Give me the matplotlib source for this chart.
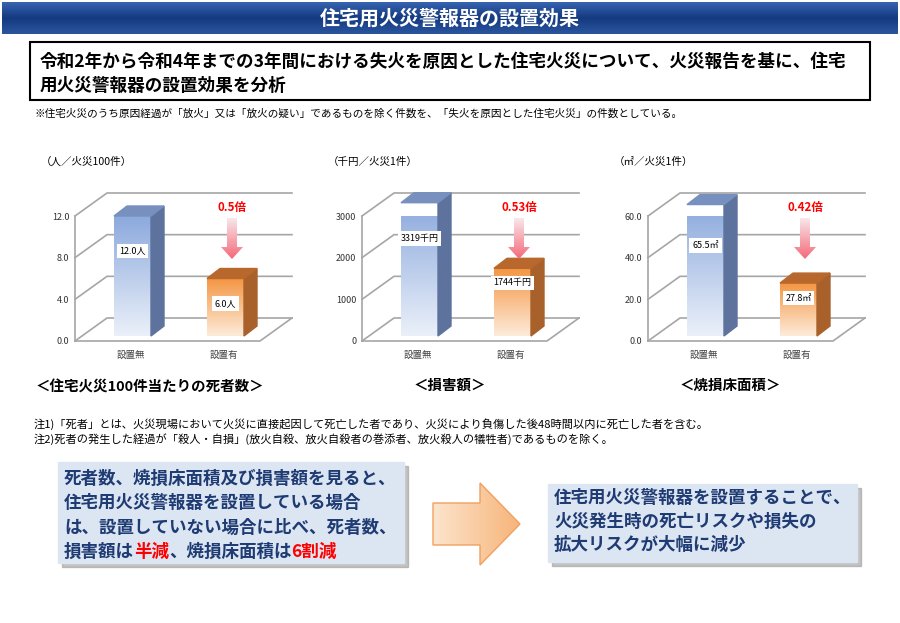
import matplotlib
matplotlib.use("Agg")
import matplotlib.pyplot as plt
import numpy as np
from matplotlib.patches import Polygon, Rectangle
from matplotlib.colors import LinearSegmentedColormap

plt.rcParams["font.family"] = "Noto Sans CJK JP"

categories = ["設置無", "設置有"]
deaths = [12.0, 6.0]
damage = [3319, 1744]
area = [65.5, 27.8]
value_labels = [["12.0人", "6.0人"], ["3319千円", "1744千円"], ["65.5㎡", "27.8㎡"]]
ratios = ["0.5倍", "0.53倍", "0.42倍"]
units = ["（人／火災100件）", "（千円／火災1件）", "（㎡／火災1件）"]
titles = ["＜住宅火災100件当たりの死者数＞", "＜損害額＞", "＜焼損床面積＞"]
yticks = [[0, 4, 8, 12], [0, 1000, 2000, 3000], [0, 20, 40, 60]]
yfmt = ["{:.1f}", "{:d}", "{:.1f}"]
series = [deaths, damage, area]

W, H = 900, 623
fig = plt.figure(figsize=(9, 6.23), dpi=100)
bg = fig.add_axes([0, 0, 1, 1], zorder=0)
bg.set_xlim(0, W); bg.set_ylim(H, 0); bg.axis("off")

def pt(px):
    return px * 0.72

# header band
grad = np.linspace(0, 1, 50).reshape(-1, 1)
hcm = LinearSegmentedColormap.from_list("h", ["#3763B0", "#143A80", "#2A559E"])
bg.imshow(grad, extent=[2, 898, 34, 2], cmap=hcm, aspect="auto", zorder=1)
bg.text(450, 18, "住宅用火災警報器の設置効果", color="white", fontsize=pt(20), fontweight="bold",
        ha="center", va="center", zorder=2)
bg.add_patch(Rectangle((30, 42), 840, 58, fill=False, ec="black", lw=1.5, zorder=2))
bg.text(40, 62, "令和2年から令和4年までの3年間における失火を原因とした住宅火災について、火災報告を基に、住宅",
        fontsize=pt(17.6), fontweight="bold", va="center")
bg.text(40, 86, "用火災警報器の設置効果を分析", fontsize=pt(17.6), fontweight="bold", va="center")
bg.text(34, 114, "※住宅火災のうち原因経過が「放火」又は「放火の疑い」であるものを除く件数を、「失火を原因とした住宅火災」の件数としている。",
        fontsize=pt(10.6), va="center")

# notes
bg.text(34, 424, "注1)「死者」とは、火災現場において火災に直接起因して死亡した者であり、火災により負傷した後48時間以内に死亡した者を含む。",
        fontsize=pt(11.2), va="center")
bg.text(34, 439, "注2)死者の発生した経過が「殺人・自損」(放火自殺、放火自殺者の巻添者、放火殺人の犠牲者)であるものを除く。",
        fontsize=pt(11.2), va="center")

# bottom boxes
for (x0, y0, x1, y1) in [(58, 462, 404, 563), (548, 484, 857, 562)]:
    bg.add_patch(Rectangle((x0 + 4, y0 + 4), x1 - x0, y1 - y0, color="#9A9A9A", alpha=0.6, zorder=1))
    bg.add_patch(Rectangle((x0, y0), x1 - x0, y1 - y0, color="#DCE6F2", zorder=2))
navy = "#1F3B73"
fsz = pt(17.5)
lx = 64
left_lines = ["死者数、焼損床面積及び損害額を見ると、", "住宅用火災警報器を設置している場合",
              "は、設置していない場合に比べ、死者数、"]
for i, s in enumerate(left_lines):
    bg.text(lx, 479 + i * 24.3, s, fontsize=fsz, fontweight="bold", color=navy, va="center", zorder=3)
parts = [("損害額は", navy), ("半減", "red"), ("、焼損床面積は", navy), ("6割減", "red")]
xcur = lx
fig.canvas.draw()
r = fig.canvas.get_renderer()
for s, c in parts:
    tt = bg.text(xcur, 552, s, fontsize=fsz, fontweight="bold", color=c, va="center", zorder=3)
    bb = tt.get_window_extent(renderer=r)
    xcur += bb.width
right_lines = ["住宅用火災警報器を設置することで、", "火災発生時の死亡リスクや損失の", "拡大リスクが大幅に減少"]
for i, s in enumerate(right_lines):
    bg.text(554, 498 + i * 23.5, s, fontsize=fsz, fontweight="bold", color=navy, va="center", zorder=3)

# big arrow
arrow = Polygon([[433, 503], [480, 503], [480, 483], [520, 524], [480, 565], [480, 545], [433, 545]],
                closed=True, zorder=2)
acm = LinearSegmentedColormap.from_list("a", ["#FCE4CC", "#F7B57A"])
im = bg.imshow(np.linspace(0, 1, 50).reshape(1, -1), extent=[433, 520, 565, 483], cmap=acm,
               aspect="auto", zorder=2)
arrow.set_facecolor("none"); arrow.set_edgecolor("#F0A060"); arrow.set_lw(1)
bg.add_patch(arrow)
im.set_clip_path(arrow)

blue_front = LinearSegmentedColormap.from_list("bf", ["#EAF0F9", "#8DAADD"])
orange_front = LinearSegmentedColormap.from_list("of", ["#FDEBD9", "#F49644"])
styles = [(blue_front, "#5D739E", "#7890BE"), (orange_front, "#A9612B", "#B8682C")]
pink = LinearSegmentedColormap.from_list("pk", ["#F46A7A", "#F8E6EA"])
label_pos = [[0.72, 0.6], [0.74, 0.8], [0.7, 0.74]]

axis_x = [75, 362, 648]
for k in range(3):
    vals = series[k]
    ymax = yticks[k][-1]
    ax = fig.add_axes([axis_x[k] / W, (H - 341) / H, 185 / W, 125 / H], zorder=2)
    ax.patch.set_alpha(0)
    pxx = 93.0
    xl, xr = -55.5 / pxx, -55.5 / pxx + 185 / pxx
    ax.set_xlim(xl, xr); ax.set_ylim(0, ymax)
    uy = ymax / 125.0
    dx, dy = 32 / pxx, 23 * uy
    gc = "#A6A6A6"
    for tk in yticks[k]:
        ax.plot([xl, xl + dx, xr + dx], [tk, tk + dy, tk + dy], color=gc, lw=1.2, clip_on=False, zorder=1)
    ax.plot([xl, xr, xr + dx], [0, 0, dy], color=gc, lw=1.2, clip_on=False, zorder=1)
    ax.plot([xl, xl], [0, ymax], color=gc, lw=1.2, clip_on=False, zorder=1)
    for s in ax.spines.values():
        s.set_visible(False)
    ax.set_yticks(yticks[k])
    ax.set_yticklabels([yfmt[k].format(v) for v in yticks[k]], fontsize=pt(9), color="#333333")
    ax.tick_params(axis="y", length=0, pad=4)
    ax.set_xticks([0, 1])
    ax.set_xticklabels(categories, fontsize=pt(9.5), color="#444444")
    ax.tick_params(axis="x", length=0, pad=7)
    w = 37 / pxx
    sx, sy = 13 / pxx, 10 * uy
    ox, oy = 2 / pxx, 5 * uy
    for i, v in enumerate(vals):
        cm, side, top = styles[i]
        x0 = i - w / 2 + ox
        x1 = x0 + w
        b0 = oy
        front = ax.bar(i + ox, v - oy, bottom=b0, width=w, color="none", zorder=3, clip_on=False)[0]
        gi = ax.imshow(np.linspace(0, 1, 60).reshape(-1, 1), extent=[x0, x1, b0, v], origin="lower",
                       cmap=cm, aspect="auto", zorder=3)
        gi.set_clip_path(front)
        gi.set_clip_box(None)
        ax.add_patch(Polygon([[x1, b0], [x1 + sx, b0 + sy], [x1 + sx, v + sy], [x1, v]], color=side,
                             zorder=3, clip_on=False))
        ax.add_patch(Polygon([[x0, v], [x1, v], [x1 + sx, v + sy], [x0 + sx, v + sy]], color=top,
                             zorder=3, clip_on=False))
        ax.text(i + ox, v * label_pos[k][i], value_labels[k][i],
                fontsize=pt(9), ha="center", va="center", zorder=5, clip_on=False,
                bbox=dict(boxstyle="square,pad=0.3", fc="white", ec="none"))
    ax.set_xlim(xl, xr); ax.set_ylim(0, ymax)
    # arrow above second bar
    ax_x = 1 + ox + sx / 2
    atop, abot = 123 * uy, 82 * uy
    ah = 12 * uy
    arr = Polygon([[ax_x - 5 / pxx, atop], [ax_x + 5 / pxx, atop], [ax_x + 5 / pxx, abot + ah],
                   [ax_x + 11 / pxx, abot + ah], [ax_x, abot], [ax_x - 11 / pxx, abot + ah],
                   [ax_x - 5 / pxx, abot + ah]], closed=True, fc="none", ec="none", clip_on=False)
    ax.add_patch(arr)
    ai = ax.imshow(np.linspace(0, 1, 60).reshape(-1, 1), extent=[ax_x - 12 / pxx, ax_x + 12 / pxx, abot, atop],
                   origin="lower", cmap=pink, aspect="auto", zorder=4)
    ai.set_clip_path(arr)
    ai.set_clip_box(None)
    ax.text(ax_x, 133 * uy, ratios[k], color="red", fontsize=pt(11.5), fontweight="bold", ha="center",
            va="center", clip_on=False)
    ax.set_xlim(xl, xr); ax.set_ylim(0, ymax)
    bg.text(axis_x[k] - 34, 162, units[k], fontsize=pt(10.5), va="center")

bg.text(150, 388, titles[0], fontsize=pt(14.5), fontweight="bold", ha="center", va="center")
bg.text(450, 386, titles[1], fontsize=pt(14.5), fontweight="bold", ha="center", va="center")
bg.text(730, 386, titles[2], fontsize=pt(14.5), fontweight="bold", ha="center", va="center")

fig.savefig("out.png", dpi=100)
